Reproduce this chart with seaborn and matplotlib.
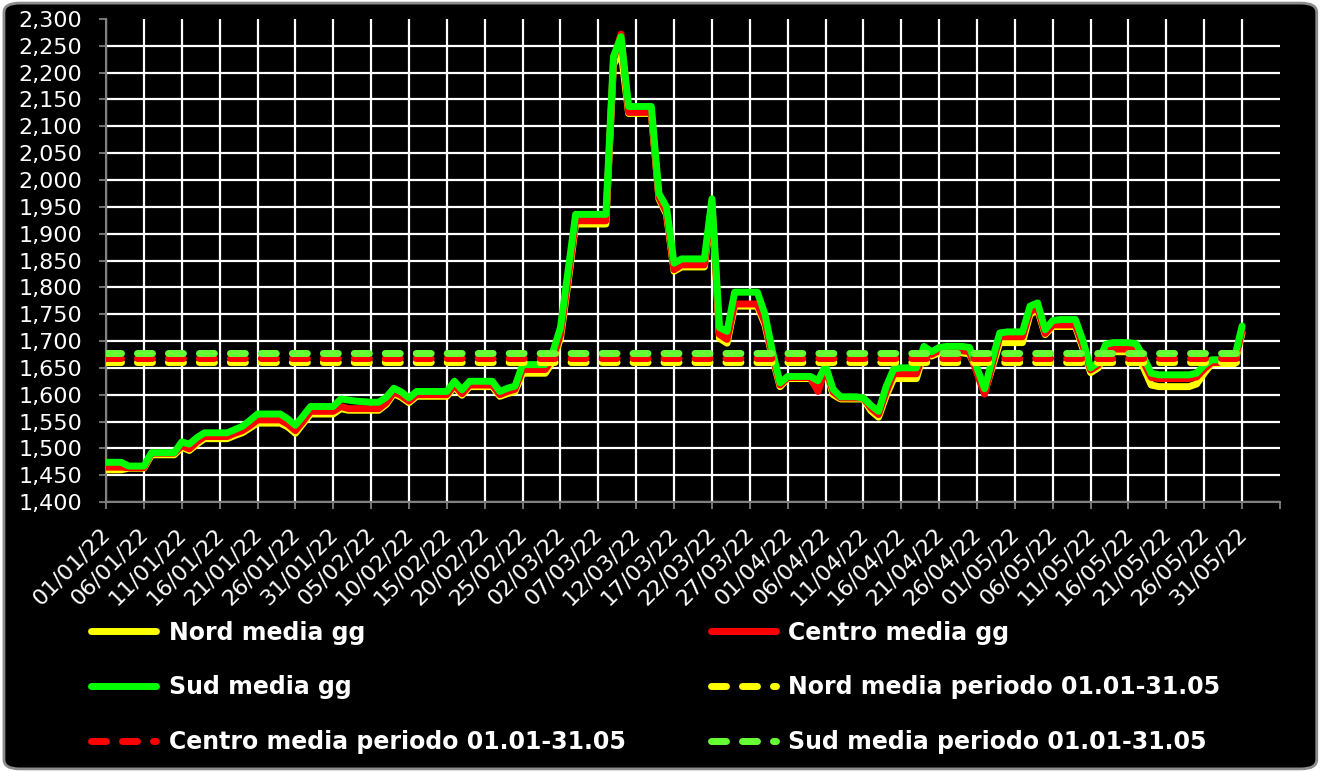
import pandas as pd
import matplotlib
matplotlib.use('Agg')
import matplotlib.pyplot as plt
from matplotlib.patches import FancyBboxPatch
from matplotlib.transforms import ScaledTranslation
import seaborn as sns

# Daily data 01/01/22 - 31/05/22
dates = pd.date_range('2022-01-01', '2022-05-31', freq='D')

nord_gg = [
    1460, 1460, 1460, 1463, 1463, 1463, 1488, 1488, 1488, 1488,
    1502, 1496, 1508, 1518, 1518, 1518, 1518, 1524, 1529, 1538,
    1547, 1547, 1547, 1547, 1540, 1528, 1546, 1564, 1564, 1564,
    1564, 1574, 1571, 1571, 1571, 1571, 1571, 1582, 1602, 1595,
    1585, 1597, 1597, 1597, 1597, 1597, 1615, 1599, 1615, 1615,
    1615, 1615, 1597, 1602, 1606, 1640, 1640, 1640, 1640, 1662,
    1705, 1808, 1918, 1918, 1918, 1918, 1918, 2215, 2240, 2124,
    2124, 2124, 2124, 1965, 1936, 1830, 1838, 1838, 1838, 1838,
    1955, 1705, 1696, 1765, 1765, 1765, 1765, 1730, 1668, 1615,
    1630, 1630, 1630, 1630, 1610, 1648, 1600, 1592, 1592, 1592,
    1592, 1570, 1558, 1598, 1630, 1630, 1630, 1630, 1678, 1672,
    1678, 1678, 1678, 1678, 1676, 1645, 1605, 1650, 1697, 1697,
    1697, 1697, 1750, 1758, 1712, 1727, 1727, 1727, 1727, 1685,
    1641, 1650, 1680, 1680, 1680, 1680, 1680, 1650, 1618, 1615,
    1615, 1615, 1615, 1615, 1620, 1640, 1658, 1658, 1658, 1658,
    1715,
]

centro_gg = [
    1465, 1465, 1465, 1464, 1464, 1464, 1491, 1491, 1491, 1491,
    1505, 1499, 1512, 1522, 1522, 1522, 1522, 1528, 1533, 1542,
    1553, 1553, 1553, 1553, 1545, 1533, 1550, 1569, 1569, 1569,
    1569, 1578, 1574, 1574, 1574, 1574, 1574, 1585, 1605, 1598,
    1588, 1600, 1600, 1600, 1600, 1600, 1618, 1602, 1618, 1618,
    1618, 1618, 1600, 1606, 1610, 1647, 1647, 1647, 1647, 1668,
    1712, 1815, 1924, 1924, 1924, 1924, 1924, 2225, 2272, 2126,
    2126, 2126, 2126, 1968, 1940, 1833, 1842, 1842, 1842, 1842,
    1960, 1712, 1703, 1769, 1769, 1769, 1769, 1735, 1672, 1618,
    1632, 1632, 1632, 1632, 1606, 1650, 1605, 1594, 1594, 1594,
    1594, 1575, 1563, 1605, 1639, 1639, 1639, 1639, 1680, 1675,
    1682, 1682, 1682, 1682, 1680, 1640, 1601, 1655, 1708, 1708,
    1708, 1708, 1755, 1762, 1714, 1730, 1730, 1730, 1730, 1690,
    1646, 1655, 1685, 1685, 1685, 1685, 1685, 1660, 1632, 1630,
    1630, 1630, 1630, 1630, 1633, 1648, 1660, 1660, 1660, 1660,
    1720,
]

sud_gg = [
    1474, 1474, 1474, 1467, 1467, 1467, 1492, 1492, 1492, 1492,
    1512, 1508, 1520, 1529, 1529, 1529, 1529, 1535, 1541, 1552,
    1564, 1564, 1564, 1564, 1555, 1543, 1560, 1578, 1578, 1578,
    1578, 1592, 1590, 1588, 1587, 1586, 1586, 1595, 1612, 1605,
    1594, 1606, 1606, 1606, 1606, 1606, 1625, 1609, 1625, 1625,
    1625, 1625, 1606, 1612, 1616, 1656, 1656, 1656, 1656, 1680,
    1725, 1830, 1936, 1936, 1936, 1936, 1936, 2230, 2267, 2137,
    2137, 2137, 2137, 1975, 1950, 1845, 1853, 1853, 1853, 1853,
    1965, 1725, 1718, 1791, 1791, 1791, 1791, 1750, 1680, 1622,
    1634, 1634, 1634, 1634, 1626, 1654, 1610, 1596, 1596, 1596,
    1594, 1580, 1569, 1615, 1648, 1650, 1650, 1650, 1690, 1680,
    1688, 1690, 1690, 1690, 1688, 1650, 1611, 1665, 1715, 1717,
    1717, 1717, 1765, 1771, 1721, 1738, 1740, 1740, 1740, 1700,
    1650, 1660, 1694, 1697, 1697, 1697, 1695, 1670, 1640, 1637,
    1637, 1637, 1637, 1637, 1640, 1655, 1665, 1665, 1665, 1668,
    1728,
]

# period averages 01.01-31.05
nord_media = 1661
centro_media = 1669
sud_media = 1677

yticks = list(range(1400, 2301, 50))

df = pd.DataFrame({'Data': dates, 'Nord': nord_gg, 'Centro': centro_gg, 'Sud': sud_gg,
                   'NordM': nord_media, 'CentroM': centro_media, 'SudM': sud_media})

fig = plt.figure(figsize=(13.22, 7.72), dpi=100)
fig.patch.set_facecolor('white')
frame = FancyBboxPatch((0.003, 0.004), 0.993, 0.992, boxstyle='round,pad=0,rounding_size=0.012',
                       transform=fig.transFigure, facecolor='black', edgecolor='#8c8c8c',
                       lw=2, zorder=-10)
fig.add_artist(frame)

ax = fig.add_axes([0.0802, 0.3497, 0.888, 0.6257])
ax.set_facecolor('black')

solid = dict(lw=5, solid_joinstyle='round', solid_capstyle='round')
dashed = dict(lw=5, linestyle=(0, (2.16, 2.3)), dash_capstyle='round')

sns.lineplot(data=df, x='Data', y='Nord', color='#FFFF00', label='Nord media gg', ax=ax, zorder=3, **solid)
sns.lineplot(data=df, x='Data', y='Centro', color='#FF0000', label='Centro media gg', ax=ax, zorder=4, **solid)
sns.lineplot(data=df, x='Data', y='Sud', color='#00FF00', label='Sud media gg', ax=ax, zorder=5, **solid)
sns.lineplot(data=df, x='Data', y='NordM', color='#FFFF00', label='Nord media periodo 01.01-31.05', ax=ax, zorder=6, **dashed)
sns.lineplot(data=df, x='Data', y='CentroM', color='#FF0000', label='Centro media periodo 01.01-31.05', ax=ax, zorder=7, **dashed)
sns.lineplot(data=df, x='Data', y='SudM', color='#66FF33', label='Sud media periodo 01.01-31.05', ax=ax, zorder=8, **dashed)

handles, labels = ax.get_legend_handles_labels()
if ax.get_legend() is not None:
    ax.get_legend().remove()

# axes
ax.set_ylim(1400, 2300)
ax.set_yticks(yticks)
ax.set_yticklabels([f'{v:,}' for v in yticks])
ax.set_xlim(pd.Timestamp('2022-01-01'), pd.Timestamp('2022-06-05'))
xt = pd.date_range('2022-01-01', '2022-05-31', freq='5D')
ax.set_xticks(xt)
ax.set_xticklabels([d.strftime('%d/%m/%y') for d in xt])
ax.set_xticks([pd.Timestamp('2022-06-05')], minor=True)
ax.set_xlabel('')
ax.set_ylabel('')

ax.grid(True, which='major', color='white', lw=1.6)
ax.set_axisbelow(True)
ax.yaxis.get_major_ticks()[-1].gridline.set_visible(False)

for s in ['top', 'right']:
    ax.spines[s].set_visible(False)
for s in ['left', 'bottom']:
    ax.spines[s].set_color('#808080')
    ax.spines[s].set_linewidth(1.5)

ax.tick_params(axis='both', which='both', colors='#808080', labelcolor='white',
               length=5, width=1.3, labelsize=16)
ax.tick_params(axis='y', pad=12)
ax.tick_params(axis='x', pad=11)

off = ScaledTranslation(-0.06, 0, fig.dpi_scale_trans)
for lab in ax.get_xticklabels():
    lab.set_rotation(45)
    lab.set_ha('right')
    lab.set_va('top')
    lab.set_rotation_mode('anchor')
    lab.set_transform(lab.get_transform() + off)

# legend in two columns, row by row
lkw = dict(loc='upper left', frameon=False, labelcolor='white', prop={'weight': 'bold', 'size': 17},
           handlelength=2.75, handletextpad=0.55, labelspacing=1.3, borderpad=0, borderaxespad=0)
fig.legend([handles[0], handles[2], handles[4]], [labels[0], labels[2], labels[4]],
           bbox_to_anchor=(0.0692, 0.196), **lkw)
fig.legend([handles[1], handles[3], handles[5]], [labels[1], labels[3], labels[5]],
           bbox_to_anchor=(0.5375, 0.196), **lkw)

plt.savefig('out.png', dpi=100, facecolor=fig.get_facecolor())
